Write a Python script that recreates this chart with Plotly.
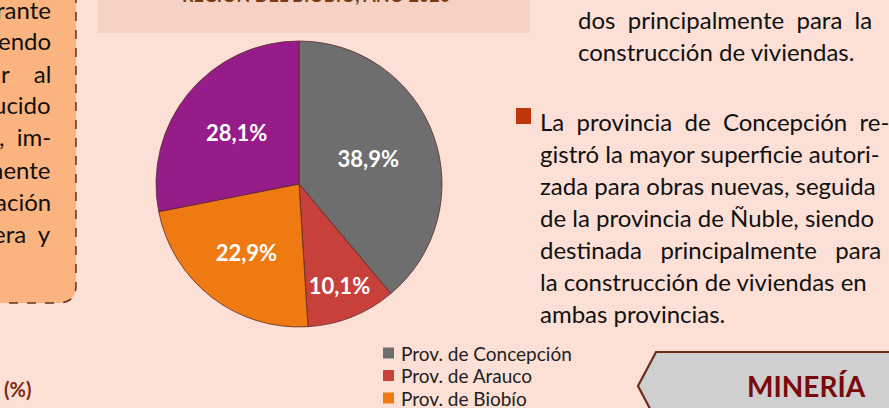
import plotly.graph_objects as go

# ---- data ----
provinces = ["Prov. de Concepción", "Prov. de Arauco", "Prov. de Biobío", "Prov. de Ñuble"]
shares = [38.9, 10.1, 22.9, 28.1]
slice_colors = ["#6E6E6E", "#C8403A", "#F07A12", "#961C8A"]

left_lines = ["rante", "endo", "r\u00a0\u00a0\u00a0\u00a0al", "ucido", ",\u00a0\u00a0im-", "nente", "ación", "era\u00a0\u00a0y"]
right_top_lines = ["dos\u00a0\u00a0principalmente\u00a0\u00a0para\u00a0\u00a0la", "construcción de viviendas."]
right_bullet_lines = [
    "La\u00a0\u00a0provincia\u00a0\u00a0de\u00a0\u00a0Concepción\u00a0\u00a0re-",
    "gistró la mayor superficie autori-",
    "zada para obras nuevas, seguida",
    "de la provincia de Ñuble, siendo",
    "destinada\u00a0\u00a0\u00a0principalmente\u00a0\u00a0\u00a0para",
    "la construcción de viviendas en",
    "ambas provincias.",
]
title_text = "REGIÓN DEL BIOBÍO, AÑO 2020"
section_text = "MINERÍA"

W, H = 889, 408
BG = "#FCE0D6"
FONT = "Lato"
BODY = 24

fig = go.Figure()

# pie
cx, cy, r = 299, 184, 143
fig.add_trace(go.Pie(
    labels=provinces, values=shares, sort=False, direction="clockwise", rotation=0,
    marker=dict(colors=slice_colors, line=dict(color="#5A2A2A", width=0.8)),
    texttemplate="%{value:.1f}%", textposition="inside", insidetextorientation="horizontal",
    textfont=dict(family=FONT, size=22, color="white", weight="bold"),
    showlegend=False, hoverinfo="label+percent",
    domain=dict(x=[(cx - r) / W, (cx + r) / W], y=[(H - cy - r) / H, (H - cy + r) / H]),
))

shapes = []
annotations = []

# title box
shapes.append(dict(type="rect", xref="x", yref="y", x0=98, x1=530, y0=-5, y1=33,
                   fillcolor="#F5D2C5", line=dict(width=0), layer="below"))
annotations.append(dict(xref="paper", yref="paper", x=316 / W, y=1 + 5 / H, text=f"<b>{title_text}</b>",
                        showarrow=False, xanchor="center", yanchor="middle",
                        font=dict(family=FONT, size=18, color="#7A3A12")))

# left orange box
shapes.append(dict(type="path", xref="x", yref="y",
                   path="M -10,-10 L 76,-10 L 76,285 Q 76,303 58,303 L -10,303 Z",
                   fillcolor="#FBB47F", line=dict(color="#6B2C1A", width=1.5, dash="dash"),
                   layer="below"))
for i, t in enumerate(left_lines):
    annotations.append(dict(xref="paper", yref="paper", x=53 / W, y=1 - (9 + i * 32) / H, text=t,
                            showarrow=False, xanchor="right", yanchor="middle",
                            font=dict(family=FONT, size=BODY, color="#111111")))

# right text
for i, t in enumerate(right_top_lines):
    annotations.append(dict(xref="paper", yref="paper", x=576 / W, y=1 - (19 + i * 32) / H, text=t,
                            showarrow=False, xanchor="left", yanchor="middle",
                            font=dict(family=FONT, size=BODY, color="#111111")))
shapes.append(dict(type="rect", xref="x", yref="y", x0=516, x1=531, y0=108, y1=124,
                   fillcolor="#C0360C", line=dict(width=0)))
for i, t in enumerate(right_bullet_lines):
    annotations.append(dict(xref="paper", yref="paper", x=538 / W, y=1 - (121 + i * 32.1) / H, text=t,
                            showarrow=False, xanchor="left", yanchor="middle",
                            font=dict(family=FONT, size=BODY, color="#111111")))

# legend (manual, drawn from data lists)
for i, (lab, col) in enumerate(zip(provinces, slice_colors)):
    yy = 353 + i * 22.5
    shapes.append(dict(type="rect", xref="x", yref="y", x0=383, x1=394, y0=yy - 5.5, y1=yy + 5.5,
                       fillcolor=col, line=dict(width=0)))
    annotations.append(dict(xref="paper", yref="paper", x=399 / W, y=1 - yy / H, text=lab,
                            showarrow=False, xanchor="left", yanchor="middle",
                            font=dict(family=FONT, size=19, color="#222222")))

# (%) label
annotations.append(dict(xref="paper", yref="paper", x=2 / W, y=1 - 389 / H, text="<b>(%)</b>",
                        showarrow=False, xanchor="left", yanchor="middle",
                        font=dict(family=FONT, size=20, color="#7A2A12")))

# MINERÍA arrow box
shapes.append(dict(type="path", xref="x", yref="y",
                   path="M 656,352 L 900,352 L 900,420 L 656,420 L 638,386 Z",
                   fillcolor="#CFCFCF", line=dict(color="#6B2C1A", width=2.2)))
annotations.append(dict(xref="paper", yref="paper", x=806 / W, y=1 - 386 / H, text=f"<b>{section_text}</b>",
                        showarrow=False, xanchor="center", yanchor="middle",
                        font=dict(family=FONT, size=28, color="#7A0A0A")))

fig.update_layout(
    width=W, height=H, margin=dict(l=0, r=0, t=0, b=0),
    paper_bgcolor=BG, plot_bgcolor=BG, separators=",.",
    xaxis=dict(range=[0, W], visible=False, fixedrange=True),
    yaxis=dict(range=[H, 0], visible=False, fixedrange=True),
    shapes=shapes, annotations=annotations,
)

fig.write_html("out.html", config={"displayModeBar": False},
               post_script="document.body.style.margin='0';document.body.style.overflow='hidden';")
